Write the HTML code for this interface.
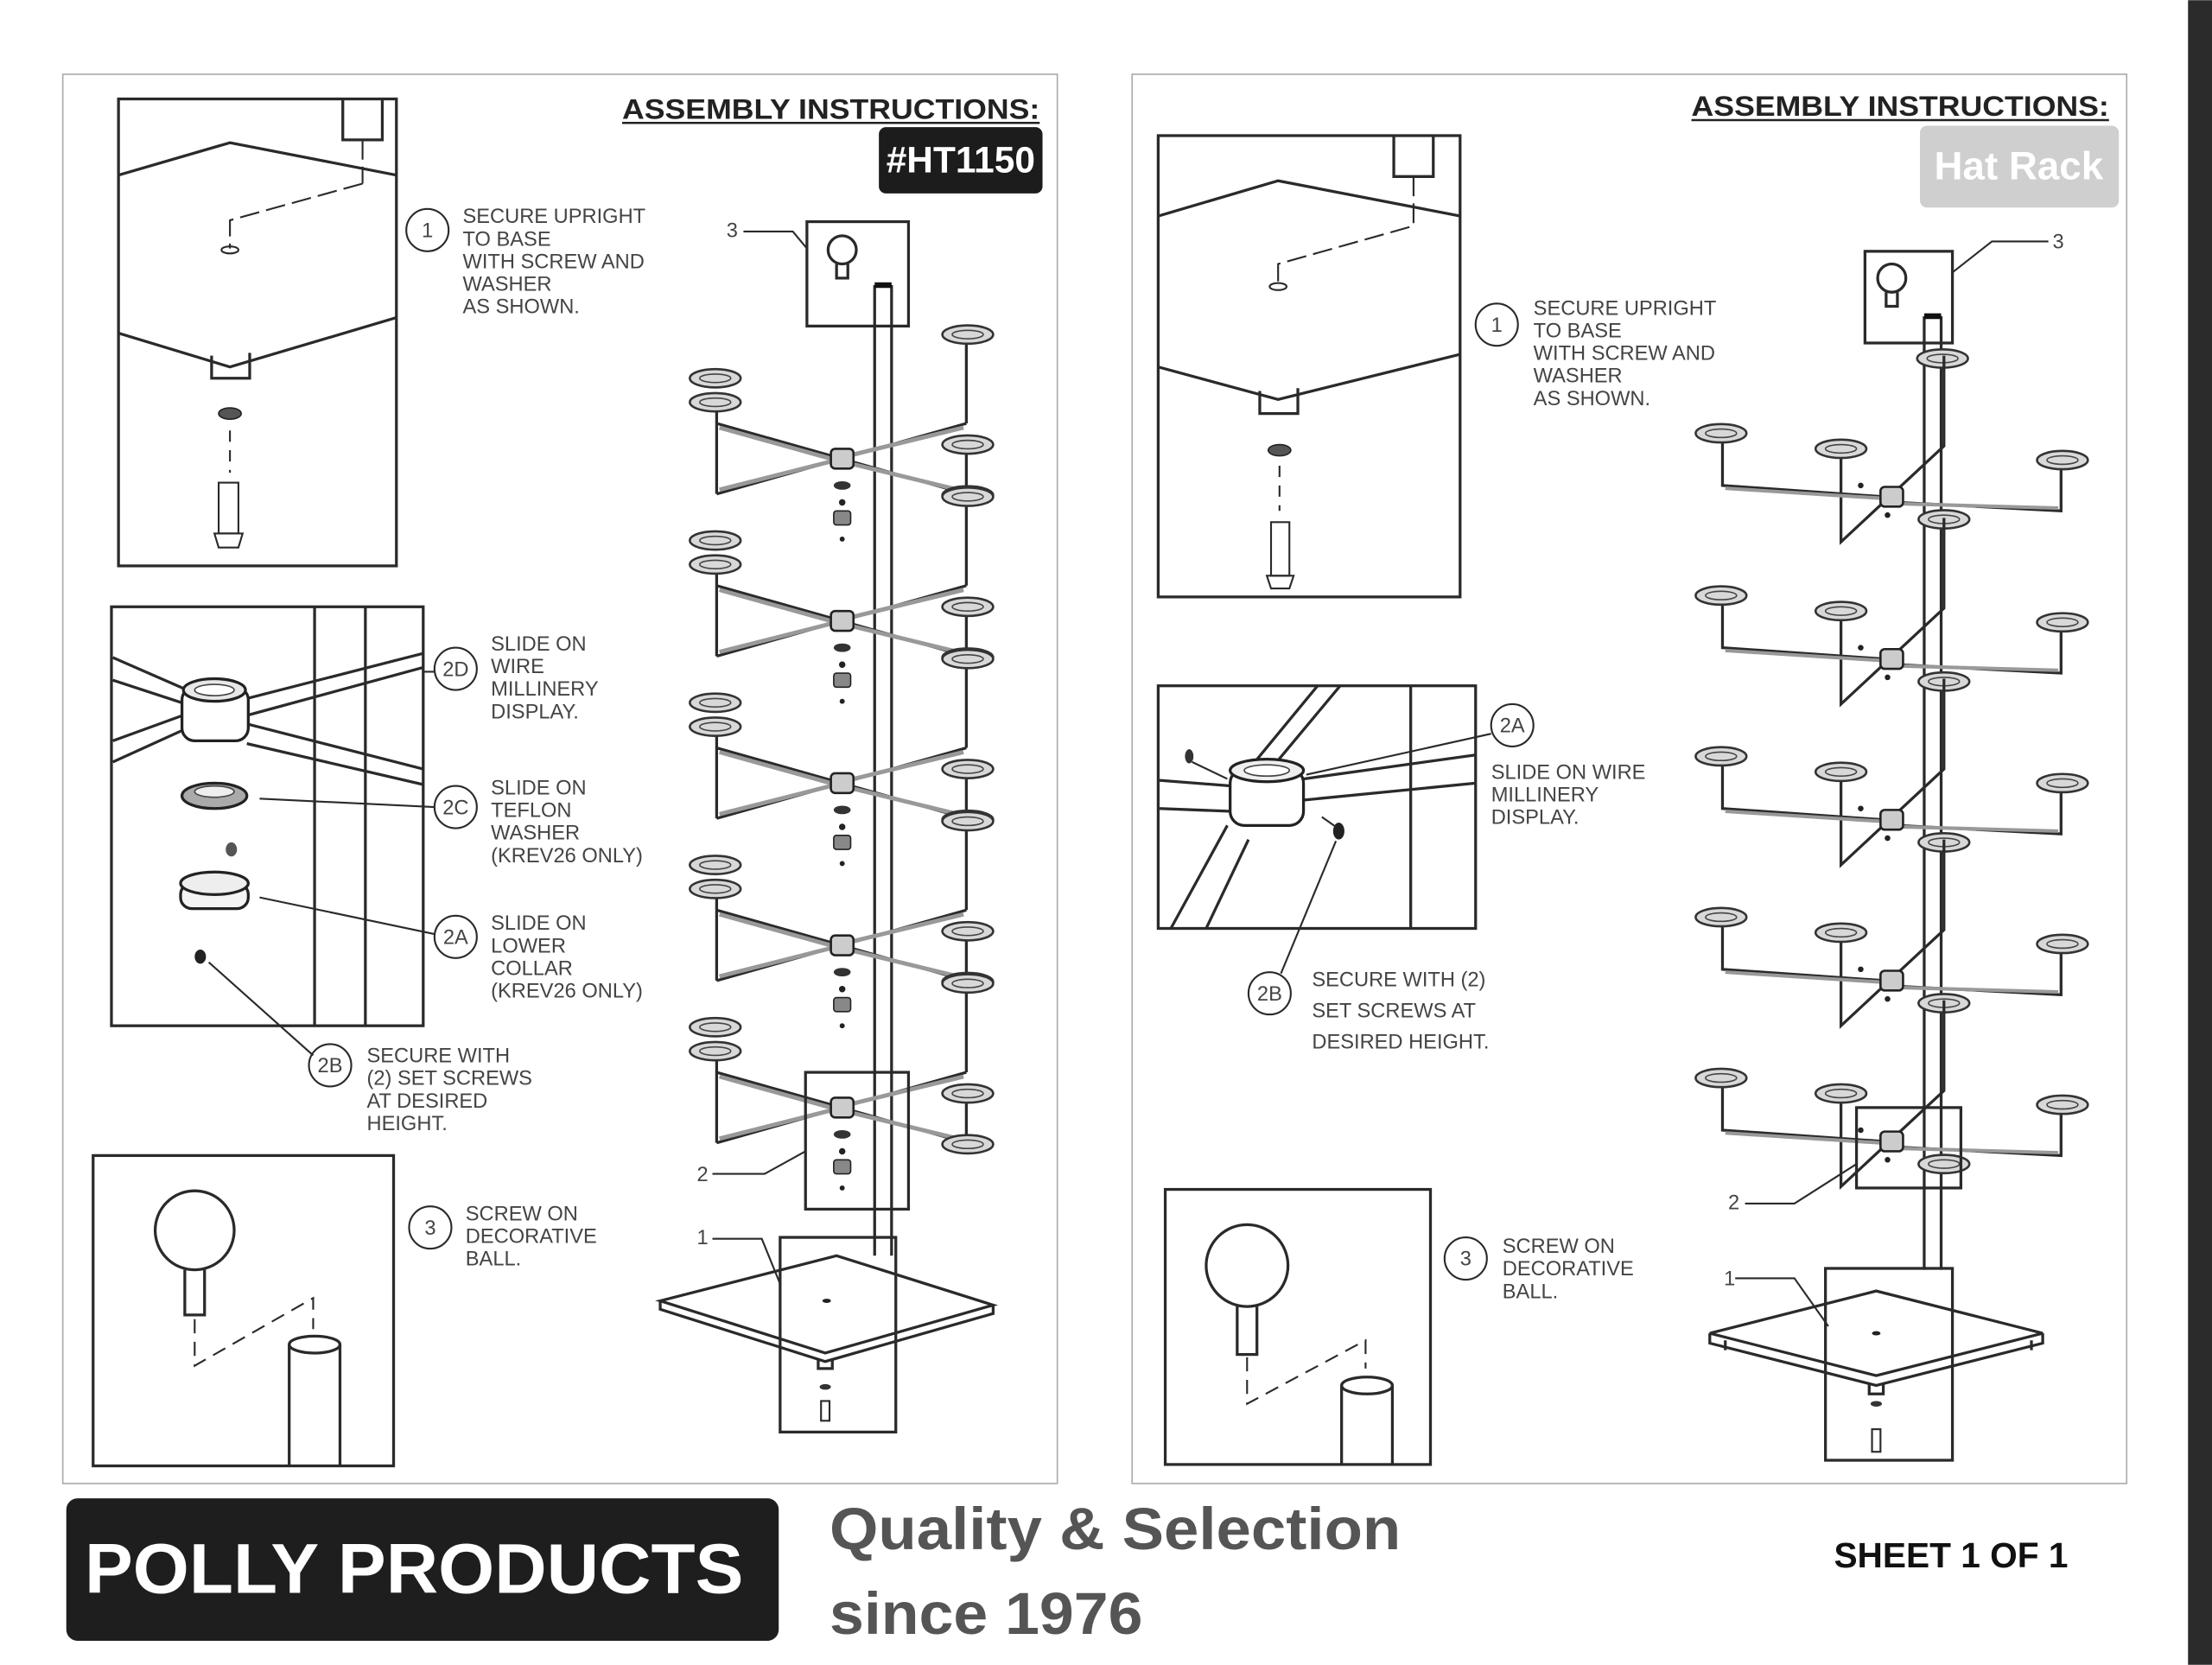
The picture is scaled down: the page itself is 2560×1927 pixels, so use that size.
<!DOCTYPE html>
<html><head><meta charset="utf-8"><style>
html,body{margin:0;padding:0;background:#fff;}
svg{display:block;}
text{font-family:"Liberation Sans",sans-serif;}
.t{font-size:14.5px;fill:#444;}
.s{stroke:#2a2a2a;stroke-width:2;fill:none;}
.th{stroke:#2a2a2a;stroke-width:1.3;fill:none;}
.h{fill:#d8d8d8;stroke:#333;stroke-width:1.6;}
</style></head><body>
<svg width="2560" height="1927" viewBox="0 0 1568 1180" xmlns="http://www.w3.org/2000/svg">
<defs>
<g id="hat"><ellipse cx="0" cy="0" rx="18" ry="6.5" class="h"/><ellipse cx="0" cy="0" rx="11" ry="3" fill="none" stroke="#444" stroke-width="1"/></g>
<g id="ltier">
<path class="s" d="M-89,-40 V25 M-89,-25 L88,25 M-89,25 L88,-25 M88,-88 V-25 M88,-10 V25"/>
<path stroke="#999" stroke-width="3" fill="none" d="M-87,-22 L-8,0 M8,4 L86,23 M-87,22 L-8,2 M8,-3 L86,-22"/>
<use href="#hat" x="-90" y="-57"/><use href="#hat" x="-90" y="-40"/>
<use href="#hat" x="89" y="-88"/><use href="#hat" x="89" y="-10"/><use href="#hat" x="89" y="26"/>
<rect x="-8" y="-7" width="16" height="14" rx="3" fill="#ccc" stroke="#222" stroke-width="1.6"/>
<ellipse cx="0" cy="19" rx="6" ry="3" fill="#333"/><circle cx="0" cy="31" r="2.3" fill="#222"/>
<rect x="-6" y="37" width="12" height="10" rx="2" fill="#888" stroke="#222"/><circle cx="0" cy="57" r="1.8" fill="#222"/>
</g>
<g id="rtier">
<path class="s" d="M-120,-45 V-8 L-5,0 M5,4 L120,10 V-26 M-36,-34 V32 L37,-36 V-100"/>
<path stroke="#999" stroke-width="2.5" fill="none" d="M-118,-6 L-8,1 M8,5 L118,8"/>
<use href="#hat" x="-121" y="-45"/><use href="#hat" x="-36" y="-34"/><use href="#hat" x="121" y="-26"/><use href="#hat" x="37" y="16"/>
<rect x="-8" y="-7" width="16" height="14" rx="3" fill="#ccc" stroke="#222" stroke-width="1.6"/>
<circle cx="-22" cy="-8" r="2" fill="#222"/><circle cx="-3" cy="13" r="2" fill="#222"/>
</g>
</defs>
<rect x="1551" y="0" width="17" height="1180" fill="#2b2b2b"/>
<rect x="44.5" y="52.5" width="705" height="999" fill="none" stroke="#aaa" stroke-width="1"/>
<rect x="802.5" y="52.5" width="705" height="999" fill="none" stroke="#aaa" stroke-width="1"/>

<!-- LEFT PANEL -->
<text x="441" y="84" textLength="296" lengthAdjust="spacingAndGlyphs" font-size="20" font-weight="bold" fill="#222">ASSEMBLY INSTRUCTIONS:</text>
<line x1="441" y1="87" x2="737" y2="87" stroke="#222" stroke-width="1.5"/>
<rect x="623" y="90" width="116" height="47" rx="5" fill="#1c1c1c"/>
<text x="681" y="122" text-anchor="middle" font-size="26" font-weight="bold" fill="#fff">#HT1150</text>

<rect x="84" y="70" width="197" height="331" class="s"/>
<path class="s" d="M84,124 L163,101 L281,124 M84,236 L163,260 L281,225 M243,70 V99 H271 V70"/>
<path class="th" d="M257,99 V130 M257,130 L163,156 V176" stroke-dasharray="14 5"/>
<ellipse cx="163" cy="177" rx="6" ry="2.5" class="th"/>
<path class="s" d="M150,252 V268 H177 V250"/>
<ellipse cx="163" cy="293" rx="8" ry="4" fill="#555" stroke="#222"/>
<path class="th" d="M163,305 V335" stroke-dasharray="8 6"/>
<rect x="155" y="342" width="14" height="36" class="th"/><path class="th" d="M152,378 h20 l-3,10 h-14 z"/>
<circle cx="303" cy="163" r="15" class="th"/><text x="303" y="168" text-anchor="middle" class="t">1</text>
<text class="t"><tspan x="328" y="158">SECURE UPRIGHT</tspan><tspan x="328" y="174">TO BASE</tspan><tspan x="328" y="190">WITH SCREW AND</tspan><tspan x="328" y="206">WASHER</tspan><tspan x="328" y="222">AS SHOWN.</tspan></text>

<rect x="79" y="430" width="221" height="297" class="s"/>
<path class="s" d="M223,430 V727 M259,430 V727"/>
<path class="s" d="M80,466 L135,490 M80,482 L135,500 M80,525 L135,505 M80,540 L135,515 M175,495 L300,463 M175,507 L300,473 M175,513 L300,545 M175,527 L300,556"/>
<rect x="129" y="487" width="47" height="38" rx="9" fill="#fff" stroke="#222" stroke-width="2"/>
<ellipse cx="152" cy="489" rx="22" ry="8" fill="#e8e8e8" stroke="#222" stroke-width="2"/>
<ellipse cx="152" cy="489" rx="14" ry="4" fill="#fff" stroke="#444"/>
<ellipse cx="152" cy="564" rx="23" ry="9" fill="#aaa" stroke="#222" stroke-width="2"/><ellipse cx="152" cy="561" rx="14" ry="4" fill="#eee" stroke="#444"/>
<ellipse cx="164" cy="602" rx="4" ry="5" fill="#555"/>
<rect x="128" y="626" width="48" height="18" rx="8" fill="#f4f4f4" stroke="#222" stroke-width="2"/>
<ellipse cx="152" cy="626" rx="24" ry="8" fill="#eee" stroke="#222" stroke-width="2"/>
<ellipse cx="142" cy="678" rx="4" ry="5" fill="#222"/>
<path class="th" d="M300,476 H308 M184,566 L308,572 M184,636 L308,662 M148,682 L222,748"/>
<circle cx="323" cy="474" r="15" class="th"/><text x="323" y="479" text-anchor="middle" class="t">2D</text>
<circle cx="323" cy="572" r="15" class="th"/><text x="323" y="577" text-anchor="middle" class="t">2C</text>
<circle cx="323" cy="664" r="15" class="th"/><text x="323" y="669" text-anchor="middle" class="t">2A</text>
<circle cx="234" cy="755" r="15" class="th"/><text x="234" y="760" text-anchor="middle" class="t">2B</text>
<text class="t"><tspan x="348" y="461">SLIDE ON</tspan><tspan x="348" y="477">WIRE</tspan><tspan x="348" y="493">MILLINERY</tspan><tspan x="348" y="509">DISPLAY.</tspan></text>
<text class="t"><tspan x="348" y="563">SLIDE ON</tspan><tspan x="348" y="579">TEFLON</tspan><tspan x="348" y="595">WASHER</tspan><tspan x="348" y="611">(KREV26 ONLY)</tspan></text>
<text class="t"><tspan x="348" y="659">SLIDE ON</tspan><tspan x="348" y="675">LOWER</tspan><tspan x="348" y="691">COLLAR</tspan><tspan x="348" y="707">(KREV26 ONLY)</tspan></text>
<text class="t"><tspan x="260" y="753">SECURE WITH</tspan><tspan x="260" y="769">(2) SET SCREWS</tspan><tspan x="260" y="785">AT DESIRED</tspan><tspan x="260" y="801">HEIGHT.</tspan></text>

<rect x="66" y="819" width="213" height="220" class="s"/>
<circle cx="138" cy="872" r="28" class="s"/>
<path class="s" d="M131,900 V932 H145 V900"/>
<path class="th" d="M138,935 V968 L222,920 V942" stroke-dasharray="10 6"/>
<path class="s" d="M205,953 V1039 M241,953 V1039"/><ellipse cx="223" cy="953" rx="18" ry="6" class="s"/>
<circle cx="305" cy="870" r="15" class="th"/><text x="305" y="875" text-anchor="middle" class="t">3</text>
<text class="t"><tspan x="330" y="865">SCREW ON</tspan><tspan x="330" y="881">DECORATIVE</tspan><tspan x="330" y="897">BALL.</tspan></text>

<rect x="572" y="157" width="72" height="74" class="s"/>
<circle cx="597" cy="177" r="10" class="s"/><path class="s" d="M593,187 V197 H601 V187"/>
<path class="th" d="M527,164 H562 L572,176"/><text x="515" y="168" class="t">3</text>
<path class="s" d="M620,202 V890 M632,202 V890"/><path d="M620,202 H632" stroke="#111" stroke-width="4"/>
<use href="#ltier" x="597" y="325"/><use href="#ltier" x="597" y="440"/><use href="#ltier" x="597" y="555"/><use href="#ltier" x="597" y="670"/><use href="#ltier" x="597" y="785"/>
<rect x="571" y="760" width="73" height="97" class="s"/>
<path class="th" d="M505,832 H542 L571,816"/><text x="494" y="837" class="t">2</text>
<rect x="553" y="877" width="82" height="138" class="s"/>
<path class="s" d="M468,922 L593,890 L704,925 L585,959 Z M468,922 V928 L585,965 L704,931 V925"/>
<ellipse cx="586" cy="922" rx="3" ry="1.5" fill="#222"/>
<path class="s" d="M580,963 V970 H590 V963"/><ellipse cx="585" cy="983" rx="4" ry="2" fill="#333"/>
<rect x="582" y="993" width="6" height="14" class="th"/>
<path class="th" d="M505,878 H540 L553,910"/><text x="494" y="882" class="t">1</text>

<!-- RIGHT PANEL -->
<text x="1199" y="82" textLength="296" lengthAdjust="spacingAndGlyphs" font-size="20" font-weight="bold" fill="#222">ASSEMBLY INSTRUCTIONS:</text>
<line x1="1199" y1="85" x2="1495" y2="85" stroke="#222" stroke-width="1.5"/>
<rect x="1361" y="89" width="141" height="58" rx="5" fill="#cfcfcf"/>
<text x="1431" y="127" text-anchor="middle" font-size="28" font-weight="bold" fill="#fff">Hat Rack</text>

<rect x="821" y="96" width="214" height="327" class="s"/>
<path class="s" d="M821,153 L906,128 L1035,153 M821,260 L906,283 L1035,251 M988,96 V125 H1016 V96"/>
<path class="th" d="M1002,125 V160 L906,187 V202" stroke-dasharray="14 5"/>
<ellipse cx="906" cy="203" rx="6" ry="2.5" class="th"/>
<path class="s" d="M893,277 V293 H920 V275"/>
<ellipse cx="907" cy="319" rx="8" ry="4" fill="#555" stroke="#222"/>
<path class="th" d="M907,330 V362" stroke-dasharray="8 6"/>
<rect x="901" y="370" width="13" height="38" class="th"/><path class="th" d="M898,408 h19 l-3,9 h-13 z"/>
<circle cx="1061" cy="230" r="15" class="th"/><text x="1061" y="235" text-anchor="middle" class="t">1</text>
<text class="t"><tspan x="1087" y="223">SECURE UPRIGHT</tspan><tspan x="1087" y="239">TO BASE</tspan><tspan x="1087" y="255">WITH SCREW AND</tspan><tspan x="1087" y="271">WASHER</tspan><tspan x="1087" y="287">AS SHOWN.</tspan></text>

<rect x="821" y="486" width="225" height="172" class="s"/>
<path class="s" d="M934,486 L873,560 M950,486 L895,552 M1000,486 V658 M822,553 L873,557 M822,573 L873,575 M924,552 L1046,535 M924,567 L1046,555 M870,585 L830,658 M885,595 L855,658"/>
<rect x="872" y="545" width="52" height="40" rx="10" fill="#fff" stroke="#222" stroke-width="2"/>
<ellipse cx="898" cy="546" rx="26" ry="8" fill="#eee" stroke="#222" stroke-width="2"/><ellipse cx="898" cy="546" rx="16" ry="4" fill="#fff" stroke="#444"/>
<ellipse cx="843" cy="536" rx="3" ry="5" fill="#333"/><path class="th" d="M845,540 L870,552"/>
<ellipse cx="949" cy="589" rx="4" ry="6" fill="#222"/><path class="th" d="M937,579 L947,586"/>
<path class="th" d="M926,549 L1057,520 M947,596 L908,690"/>
<circle cx="1072" cy="514" r="15" class="th"/><text x="1072" y="519" text-anchor="middle" class="t">2A</text>
<circle cx="900" cy="704" r="15" class="th"/><text x="900" y="709" text-anchor="middle" class="t">2B</text>
<text class="t"><tspan x="1057" y="552">SLIDE ON WIRE</tspan><tspan x="1057" y="568">MILLINERY</tspan><tspan x="1057" y="584">DISPLAY.</tspan></text>
<text class="t"><tspan x="930" y="699">SECURE WITH (2)</tspan><tspan x="930" y="721">SET SCREWS AT</tspan><tspan x="930" y="743">DESIRED HEIGHT.</tspan></text>

<rect x="826" y="843" width="188" height="195" class="s"/>
<circle cx="884" cy="897" r="29" class="s"/>
<path class="s" d="M877,926 V960 H891 V926"/>
<path class="th" d="M884,962 V995 L968,950 V970" stroke-dasharray="10 6"/>
<path class="s" d="M951,982 V1038 M987,982 V1038"/><ellipse cx="969" cy="982" rx="18" ry="6" class="s"/>
<circle cx="1039" cy="892" r="15" class="th"/><text x="1039" y="897" text-anchor="middle" class="t">3</text>
<text class="t"><tspan x="1065" y="888">SCREW ON</tspan><tspan x="1065" y="904">DECORATIVE</tspan><tspan x="1065" y="920">BALL.</tspan></text>

<rect x="1322" y="178" width="62" height="65" class="s"/>
<circle cx="1341" cy="197" r="10" class="s"/><path class="s" d="M1337,207 V217 H1345 V207"/>
<path class="th" d="M1384,193 L1412,171 H1452"/><text x="1455" y="176" class="t">3</text>
<path class="s" d="M1364,224 V900 M1376,224 V900"/><path d="M1364,224 H1376" stroke="#111" stroke-width="4"/>
<use href="#hat" x="1377" y="254"/>
<use href="#rtier" x="1341" y="352"/><use href="#rtier" x="1341" y="467"/><use href="#rtier" x="1341" y="581"/><use href="#rtier" x="1341" y="695"/><use href="#rtier" x="1341" y="809"/>
<rect x="1316" y="785" width="74" height="57" class="s"/>
<path class="th" d="M1237,853 H1272 L1316,825"/><text x="1225" y="857" class="t">2</text>
<rect x="1294" y="899" width="90" height="136" class="s"/>
<path class="s" d="M1212,945 L1330,915 L1448,945 L1330,975 Z M1212,945 V952 L1330,982 L1448,952 V945"/>
<ellipse cx="1330" cy="945" rx="3" ry="1.5" fill="#222"/>
<path class="s" d="M1223,950 V957 M1440,950 V957 M1325,980 V988 H1335 V980"/>
<ellipse cx="1330" cy="995" rx="4" ry="2" fill="#333"/>
<rect x="1327" y="1013" width="6" height="16" class="th"/>
<path class="th" d="M1230,906 H1272 L1296,940"/><text x="1222" y="911" class="t">1</text>

<!-- footer -->
<rect x="47" y="1062" width="505" height="101" rx="8" fill="#1e1e1e"/>
<text x="60" y="1129" textLength="467" lengthAdjust="spacingAndGlyphs" font-size="50" font-weight="bold" fill="#fff">POLLY PRODUCTS</text>
<text x="588" y="1098" textLength="405" lengthAdjust="spacingAndGlyphs" font-size="42" font-weight="bold" fill="#555">Quality &amp; Selection</text>
<text x="588" y="1158" textLength="222" lengthAdjust="spacingAndGlyphs" font-size="42" font-weight="bold" fill="#555">since 1976</text>
<text x="1300" y="1111" textLength="166" lengthAdjust="spacingAndGlyphs" font-size="25" font-weight="bold" fill="#111">SHEET 1 OF 1</text>
</svg>
</body></html>
